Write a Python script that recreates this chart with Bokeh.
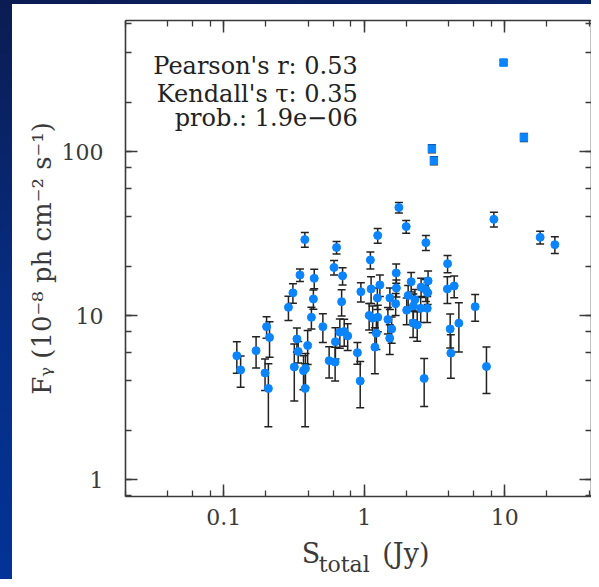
from bokeh.plotting import figure
from bokeh.models import (ColumnDataSource, Whisker, TeeHead, LogAxis, Label, Range1d,
                          LogTicker, FixedTicker, CustomJSTickFormatter)
from bokeh.embed import file_html
from bokeh.resources import INLINE

# ---- data ----
s_total = [0.124, 0.132, 0.170, 0.202, 0.212, 0.197, 0.208, 0.289, 0.311, 0.318,
           0.332, 0.339, 0.349, 0.378, 0.370, 0.382, 0.380, 0.396, 0.421, 0.435,
           0.441, 0.508, 0.563, 0.621, 0.624, 0.610, 0.636, 0.702, 0.691, 0.671,
           0.721, 0.763, 0.895, 0.937, 0.947, 1.085, 1.149, 1.12, 1.107, 1.248,
           1.241, 1.293, 1.25, 1.221, 1.192, 1.475, 1.524, 1.569, 1.52, 1.690,
           1.695, 1.675, 1.766, 1.991, 2.16, 2.056, 2.007, 2.296, 2.24, 2.23,
           2.385, 2.541, 2.85, 2.748, 2.83, 2.81, 2.525, 2.673, 2.75, 3.923,
           3.91, 4.372, 6.166, 4.093, 4.72, 4.14, 7.42, 8.38, 17.89, 22.77]
f_gamma = [5.70, 4.67, 6.12, 8.57, 7.37, 4.47, 3.60, 11.24, 13.77, 4.87,
           7.21, 6.05, 17.7, 29.1, 4.62, 4.77, 3.60, 6.58, 9.77, 12.64,
           16.88, 8.57, 5.32, 5.21, 6.94, 19.67, 26.05, 17.49, 12.17, 7.93,
           8.01, 7.53, 5.95, 4.00, 14.0, 10.03, 9.66, 14.55, 21.86, 30.83,
           12.82, 15.39, 9.79, 7.82, 6.43, 9.48, 12.82, 8.30, 7.29, 18.2,
           14.75, 11.83, 45.6, 34.9, 16.12, 13.28, 10.80, 12.52, 11.47, 9.01,
           8.78, 14.92, 16.3, 14.41, 13.81, 11.08, 11.08, 4.14, 27.87, 20.75,
           14.55, 15.18, 11.35, 8.30, 9.00, 5.91, 4.90, 38.66, 30.02, 27.1]
f_err = [1.24, 1.01, 1.33, 1.29, 1.8, 0.97, 1.5, 1.88, 1.86, 1.85,
         1.2, 0.91, 1.56, 3.0, 1.08, 1.12, 1.5, 1.54, 1.47, 1.7,
         2.28, 1.7, 1.15, 1.22, 1.5, 2.0, 2.3, 2.1, 2.2, 1.6,
         1.5, 1.4, 0.9, 1.25, 1.9, 1.85, 1.8, 2.7, 2.6, 3.2,
         1.9, 2.3, 1.8, 1.6, 2.0, 1.75, 1.9, 1.5, 1.5, 2.45,
         1.75, 1.8, 3.3, 3.1, 2.2, 2.0, 2.0, 1.9, 2.1, 1.65,
         1.8, 2.0, 2.45, 2.2, 2.1, 2.0, 2.0, 1.35, 2.9, 2.5,
         2.7, 2.3, 2.1, 1.95, 3.0, 1.75, 1.55, 4.0, 2.7, 3.2]

sq_s = [3.033, 3.134, 9.82, 13.70]
sq_f = [104.3, 88.1, 349.0, 122.1]
sq_err = [6.0, 5.0, 12.0, 7.0]

stats_lines = ["Pearson's r: 0.53", "Kendall's \u03c4: 0.35", "prob.: 1.9e\u221206"]
x_title_main = ["S", "(Jy)"]
x_title_sub = ["total"]
y_title = "F\u1d67 (10\u207b\u2078 ph cm\u207b\u00b2 s\u207b\u00b9)"

FONT = "DejaVu Serif"
INK = "#3a3a3a"
BLUE = "#0a84ff"

src = ColumnDataSource(dict(x=s_total, y=f_gamma,
                            lo=[f - e for f, e in zip(f_gamma, f_err)],
                            hi=[f + e for f, e in zip(f_gamma, f_err)]))
sq_src = ColumnDataSource(dict(x=sq_s, y=sq_f,
                               lo=[f - e for f, e in zip(sq_f, sq_err)],
                               hi=[f + e for f, e in zip(sq_f, sq_err)]))

p = figure(width=591, height=579, x_axis_type="log", y_axis_type="log",
           x_range=Range1d(0.02, 41.5), y_range=Range1d(0.79, 630),
           output_backend="svg", toolbar_location=None,
           min_border_left=125, min_border_top=20, min_border_bottom=83,
           min_border_right=0)
p.outline_line_color = None
p.xgrid.visible = False
p.ygrid.visible = False
p.background_fill_color = "white"
p.border_fill_color = None
p.styles = {
    "background": ("linear-gradient(#ffffff, #ffffff) 12px 4px / calc(100% - 12px) calc(100% - 4px) no-repeat, "
                   "linear-gradient(165deg, #0b1c52 0%, #062e86 45%, #0036a0 100%)")
}

for src_ in (src, sq_src):
    w = Whisker(base="x", upper="hi", lower="lo", source=src_,
                line_color="#222222", line_width=1.5, level="underlay",
                upper_head=TeeHead(size=8, line_color="#222222", line_width=1.5),
                lower_head=TeeHead(size=8, line_color="#222222", line_width=1.5))
    p.add_layout(w)

p.scatter("x", "y", source=src, size=8, marker="circle", fill_color=BLUE, line_color=BLUE)
p.scatter("x", "y", source=sq_src, size=7.5, marker="square", fill_color=BLUE, line_color=BLUE)

fmt = CustomJSTickFormatter(code="return String(Number(tick.toPrecision(3)));")
blank = CustomJSTickFormatter(code="return '';")

def style(ax, labelled):
    ax.ticker = LogTicker()
    ax.axis_line_color = INK
    ax.axis_line_width = 1.6
    ax.major_tick_line_color = INK
    ax.minor_tick_line_color = INK
    ax.major_tick_line_width = 1.5
    ax.minor_tick_line_width = 1.3
    ax.major_tick_in = 12
    ax.major_tick_out = 0
    ax.minor_tick_in = 6
    ax.minor_tick_out = 0
    if labelled:
        ax.formatter = fmt
        ax.major_label_text_font = FONT
        ax.major_label_text_font_size = "22px"
        ax.major_label_text_color = INK
        ax.axis_label_text_font = FONT
        ax.axis_label_text_font_size = "26px"
        ax.axis_label_text_font_style = "normal"
        ax.axis_label_text_color = INK
    else:
        ax.formatter = blank
        ax.major_label_text_font_size = "0px"
        ax.major_label_standoff = 0

style(p.xaxis[0], True)
style(p.yaxis[0], True)
p.yaxis[0].axis_label = y_title
p.xaxis[0].major_label_standoff = 12
p.yaxis[0].major_label_standoff = 22
p.yaxis[0].axis_label_standoff = 2

top = LogAxis()
style(top, False)
p.add_layout(top, "above")
right = LogAxis()
style(right, False)
p.add_layout(right, "right")

# x-axis title: "total" subscript row first, then "S ... (Jy)" row pulled back up
def title_axis(words, centres, size, standoff):
    ax = LogAxis(ticker=FixedTicker(ticks=centres, minor_ticks=[]),
                 formatter=CustomJSTickFormatter(args=dict(words=words), code="return words[index];"),
                 axis_line_color=None, major_tick_line_color=None, minor_tick_line_color=None,
                 major_tick_in=0, major_tick_out=0, minor_tick_in=0, minor_tick_out=0,
                 major_label_text_font=FONT, major_label_text_font_size=size,
                 major_label_text_color=INK, major_label_standoff=standoff)
    p.add_layout(ax, "below")
    return ax

title_axis(x_title_sub, [0.7206], "22px", 24)
title_axis(x_title_main, [0.4175, 1.981], "27px", -42)

for txt, yv in zip(stats_lines, [334, 224, 161]):
    p.add_layout(Label(x=0.9, y=yv, text=txt, text_align="right", text_baseline="middle",
                       text_font=FONT, text_font_size="24px", text_color="#222222"))

open("out.html", "w").write(file_html(p, INLINE))
